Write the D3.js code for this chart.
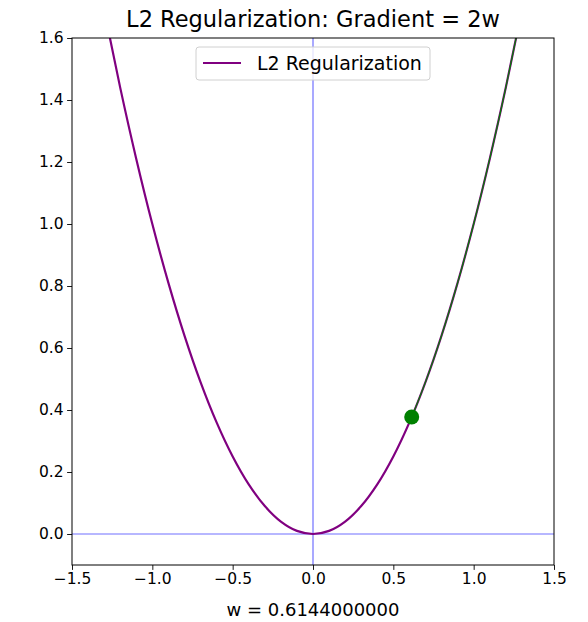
<!DOCTYPE html>
<html>
<head>
<meta charset="utf-8">
<script src="https://cdn.jsdelivr.net/npm/d3@7"></script>
<style>
  body { margin: 0; background: #fff; }
  text { font-family: "DejaVu Sans", sans-serif; fill: #000; }
</style>
</head>
<body>
<div id="chart"></div>
<script>
const wValues = [-1.5, -1.4, -1.3, -1.2, -1.1, -1.0, -0.9, -0.8, -0.7, -0.6, -0.5, -0.4, -0.3, -0.2, -0.1, 0.0,
  0.1, 0.2, 0.3, 0.4, 0.5, 0.6, 0.7, 0.8, 0.9, 1.0, 1.1, 1.2, 1.3, 1.4, 1.5];
const penaltyValues = [2.25, 1.96, 1.69, 1.44, 1.21, 1.0, 0.81, 0.64, 0.49, 0.36, 0.25, 0.16, 0.09, 0.04, 0.01, 0.0,
  0.01, 0.04, 0.09, 0.16, 0.25, 0.36, 0.49, 0.64, 0.81, 1.0, 1.21, 1.44, 1.69, 1.96, 2.25];
// green trace from the current point up the right branch
const traceW = [0.6144, 0.7, 0.8, 0.9, 1.0, 1.1, 1.2, 1.3, 1.4];
const traceValues = [0.3775, 0.49, 0.64, 0.81, 1.0, 1.21, 1.44, 1.69, 1.96];
const currentW = 0.6144, currentValue = 0.3775;
const xTicks = [-1.5, -1.0, -0.5, 0.0, 0.5, 1.0, 1.5];
const yTicks = [0.0, 0.2, 0.4, 0.6, 0.8, 1.0, 1.2, 1.4, 1.6];

const width = 588, height = 622;
const margin = {left: 72, right: 34, top: 38, bottom: 57};

const svg = d3.select("#chart").append("svg")
  .attr("width", width).attr("height", height);

const x = d3.scaleLinear().domain([-1.5, 1.5]).range([margin.left, width - margin.right]);
const y = d3.scaleLinear().domain([-0.1, 1.6]).range([height - margin.bottom, margin.top]);

svg.append("clipPath").attr("id", "clip").append("rect")
  .attr("x", margin.left).attr("y", margin.top)
  .attr("width", width - margin.left - margin.right)
  .attr("height", height - margin.top - margin.bottom);

const plot = svg.append("g").attr("clip-path", "url(#clip)");

// reference axes lines
plot.append("line")
  .attr("x1", x(-1.5)).attr("x2", x(1.5)).attr("y1", y(0)).attr("y2", y(0))
  .attr("stroke", "#7070ff").attr("stroke-width", 1.2);
plot.append("line")
  .attr("x1", x(0)).attr("x2", x(0)).attr("y1", y(-0.1)).attr("y2", y(1.6))
  .attr("stroke", "#7070ff").attr("stroke-width", 1.2);

const line = d3.line()
  .x(d => x(d[0])).y(d => y(d[1]))
  .curve(d3.curveCatmullRom.alpha(0.5));

plot.append("path")
  .datum(d3.zip(wValues, penaltyValues))
  .attr("fill", "none").attr("stroke", "#800080").attr("stroke-width", 2.2)
  .attr("d", line);

plot.append("path")
  .datum(d3.zip(traceW, traceValues))
  .attr("fill", "none").attr("stroke", "#008000").attr("stroke-width", 1.2)
  .attr("d", line);

plot.append("circle")
  .attr("cx", x(currentW)).attr("cy", y(currentValue)).attr("r", 7.5)
  .attr("fill", "#008000");

// axes
const xAxis = d3.axisBottom(x).tickValues(xTicks).tickSize(4.9).tickPadding(3.5)
  .tickFormat(d => d3.format(".1f")(d).replace("-", "\u2212"));
const yAxis = d3.axisLeft(y).tickValues(yTicks).tickSize(4.9).tickPadding(3.5)
  .tickFormat(d3.format(".1f"));

const gx = svg.append("g").attr("transform", `translate(0,${height - margin.bottom})`).call(xAxis);
const gy = svg.append("g").attr("transform", `translate(${margin.left},0)`).call(yAxis);
[gx, gy].forEach(g => {
  g.select(".domain").remove();
  g.selectAll("line").attr("stroke", "#000").attr("stroke-width", 0.9);
  g.selectAll("text").style("font-family", "DejaVu Sans").style("font-size", "15.5px").attr("fill", "#000");
});

// frame
svg.append("rect")
  .attr("x", margin.left).attr("y", margin.top)
  .attr("width", width - margin.left - margin.right)
  .attr("height", height - margin.top - margin.bottom)
  .attr("fill", "none").attr("stroke", "#000").attr("stroke-width", 1);

svg.append("text")
  .attr("x", (margin.left + width - margin.right) / 2).attr("y", 27)
  .attr("text-anchor", "middle").style("font-size", "22.5px")
  .text("L2 Regularization: Gradient = 2w");

svg.append("text")
  .attr("x", (margin.left + width - margin.right) / 2).attr("y", 616)
  .attr("text-anchor", "middle").style("font-size", "18px")
  .text("w = " + currentW.toFixed(10));

// legend
const legend = svg.append("g").attr("transform", "translate(196,47)");
legend.append("rect")
  .attr("width", 234).attr("height", 33).attr("rx", 3)
  .attr("fill", "#fff").attr("fill-opacity", 0.8)
  .attr("stroke", "#d0d0d0").attr("stroke-width", 1);
legend.append("line")
  .attr("x1", 7).attr("x2", 45).attr("y1", 16).attr("y2", 16)
  .attr("stroke", "#800080").attr("stroke-width", 2.2);
legend.append("text")
  .attr("x", 61).attr("y", 22.5).style("font-size", "19px")
  .text("L2 Regularization");
</script>
</body>
</html>
